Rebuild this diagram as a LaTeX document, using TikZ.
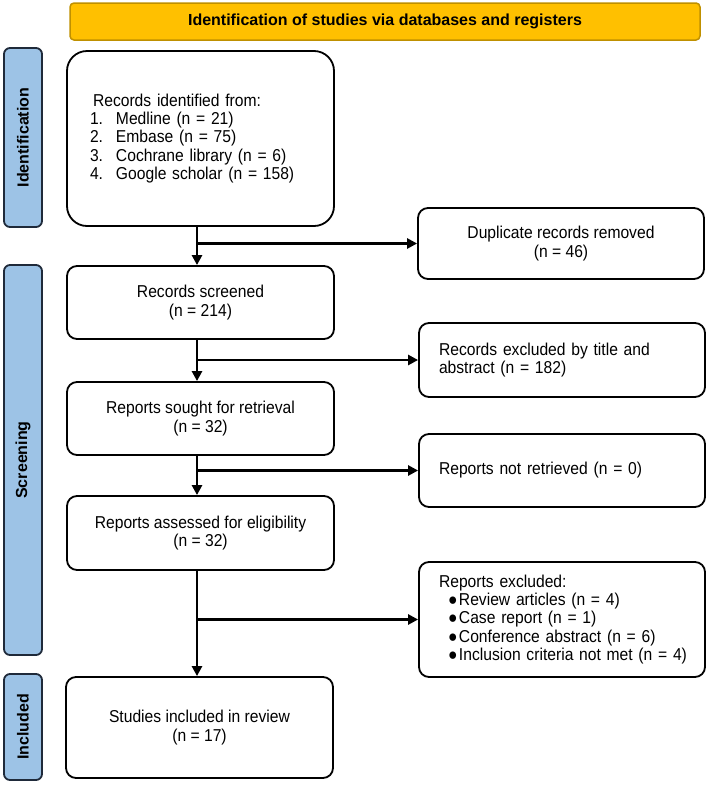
\documentclass[tikz,border=0pt]{standalone}
\usepackage{fontspec}
\setmainfont{Liberation Sans}
\newfontfamily\bodyfont{Liberation Sans}[FakeStretch=0.91]
\usetikzlibrary{arrows.meta}
\definecolor{hdrfill}{HTML}{FFC000}
\definecolor{hdrline}{HTML}{BF9000}
\definecolor{sidefill}{HTML}{9DC3E6}
\definecolor{sideline}{HTML}{1F2A3A}
\begin{document}
\begin{tikzpicture}[x=1pt,y=-1pt,
  txt/.style={font=\bodyfont\fontsize{17.2}{18.4}\selectfont},
  box/.style={txt, draw=black, line width=1.8pt, rounded corners=10pt, fill=white, inner sep=0pt},
  leftbox/.style={box, minimum width=267pt},
  rightbox/.style={box, minimum width=286pt, text width=246pt, align=left},
  hdr/.style={draw=hdrline, fill=hdrfill, line width=1.5pt, rounded corners=4pt, inner sep=0pt,
    font=\fontsize{16}{18}\selectfont\bfseries},
  sidebox/.style={draw=sideline, fill=sidefill, line width=1.8pt, rounded corners=6pt, inner sep=0pt,
    rotate=90, minimum height=38pt, font=\fontsize{16}{18}\selectfont\bfseries},
  arr/.style={line width=2.7pt, -{Triangle[length=10pt,width=10pt]}}
]
\useasboundingbox (0,0) rectangle (708,785);

% header
\node[hdr, minimum width=630pt, minimum height=37pt] (hdr) at (385,21.5)
  {Identification of studies via databases and registers};

% side labels
\node[sidebox, minimum width=179pt] (sideid) at (23,137.5) {Identification};
\node[sidebox, minimum width=390pt] (sidescr) at (23,460) {Screening};
\node[sidebox, minimum width=106pt] (sideinc) at (23,727) {Included};

% left column
\node[leftbox, rounded corners=20pt, minimum height=175pt, text width=221pt, align=left] (recid) at (200.5,138.5)
  {\hspace*{3pt}Records identified from:\\
   \makebox[26pt][l]{1.}Medline (n = 21)\\
   \makebox[26pt][l]{2.}Embase (n = 75)\\
   \makebox[26pt][l]{3.}Cochrane library (n = 6)\\
   \makebox[26pt][l]{4.}Google scholar (n = 158)};
\node[leftbox, minimum height=73pt, align=center] (screened) at (200.5,302.5)
  {Records screened\\(n = 214)};
\node[leftbox, minimum height=73pt, align=center] (sought) at (200.5,418.5)
  {Reports sought for retrieval\\(n = 32)};
\node[leftbox, minimum height=74pt, align=center] (assessed) at (200.5,533)
  {Reports assessed for eligibility\\(n = 32)};
\node[leftbox, minimum height=101pt, align=center] (studies) at (199.5,727.5)
  {Studies included in review\\(n = 17)};

% right column
\node[box, minimum width=286pt, minimum height=71pt, align=center] (dup) at (561,243.5)
  {Duplicate records removed\\(n = 46)};
\node[rightbox, minimum height=74pt] (exclta) at (562,360)
  {Records excluded by title and\\abstract (n = 182)};
\node[rightbox, minimum height=73pt] (notret) at (562,470.5)
  {Reports not retrieved (n = 0)};
\node[rightbox, minimum height=115pt] (exclrep) at (562,619.5)
  {Reports excluded:\\
   \mbox{\hspace*{9pt}\makebox[11pt][l]{●}Review articles (n = 4)}\\
   \mbox{\hspace*{9pt}\makebox[11pt][l]{●}Case report (n = 1)}\\
   \mbox{\hspace*{9pt}\makebox[11pt][l]{●}Conference abstract (n = 6)}\\
   \mbox{\hspace*{9pt}\makebox[11pt][l]{●}Inclusion criteria not met (n = 4)}};

% connectors
\coordinate (spine) at (197,0);
\draw[arr] (recid.south -| spine) -- (screened.north -| spine);
\draw[arr] (spine |- dup.west) -- (dup.west);
\draw[arr] (screened.south -| spine) -- (sought.north -| spine);
\draw[arr] (spine |- exclta.west) -- (exclta.west);
\draw[arr] (sought.south -| spine) -- (assessed.north -| spine);
\draw[arr] (spine |- notret.west) -- (notret.west);
\draw[arr] (assessed.south -| spine) -- (studies.north -| spine);
\draw[arr] (spine |- exclrep.west) -- (exclrep.west);
\end{tikzpicture}
\end{document}
